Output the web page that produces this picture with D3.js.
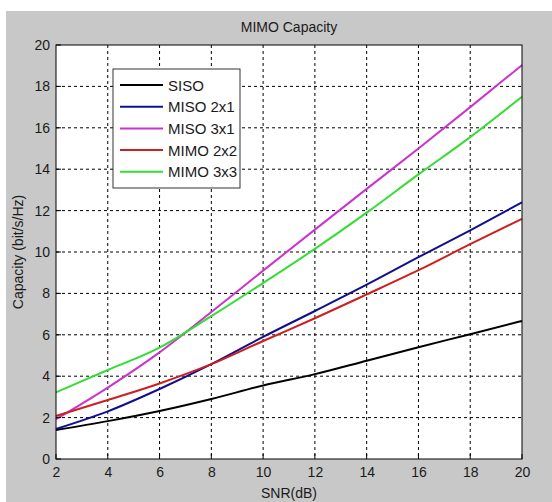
<!DOCTYPE html>
<html>
<head>
<meta charset="utf-8">
<script src="https://cdn.jsdelivr.net/npm/d3@7"></script>
<style>
  body { margin: 0; background: #fff; }
  svg text { font-family: "Liberation Sans", Arial, sans-serif; fill: #1a1a1a; }
</style>
</head>
<body>
<div id="chart"></div>
<script>
// values, every 2 dB
var snr = [2, 4, 6, 8, 10, 12, 14, 16, 18, 20];
var siso   = [1.40, 1.83, 2.32, 2.90, 3.55, 4.10, 4.75, 5.40, 6.03, 6.67];
var miso21 = [1.45, 2.30, 3.38, 4.58, 5.90, 7.15, 8.42, 9.75, 11.05, 12.40];
var miso31 = [1.92, 3.45, 5.15, 7.10, 9.10, 11.08, 13.05, 15.00, 17.00, 19.03];
var mimo22 = [2.08, 2.85, 3.65, 4.58, 5.70, 6.80, 7.95, 9.12, 10.38, 11.60];
var mimo33 = [3.22, 4.30, 5.38, 6.90, 8.50, 10.15, 11.90, 13.75, 15.55, 17.50];
var names  = ["SISO", "MISO 2x1", "MISO 3x1", "MIMO 2x2", "MIMO 3x3"];
var xTicks = [2, 4, 6, 8, 10, 12, 14, 16, 18, 20];
var yTicks = [0, 2, 4, 6, 8, 10, 12, 14, 16, 18, 20];

var series = [siso, miso21, miso31, mimo22, mimo33];
var colors = ["#000000", "#10108e", "#cc33cc", "#cc2020", "#33dd33"];

var W = 552, H = 502;
var m = {left: 56, top: 45, right: 522, bottom: 459};

var svg = d3.select("#chart").append("svg")
    .attr("width", W).attr("height", H);

// grey figure background
svg.append("rect").attr("x", 6).attr("y", 11)
    .attr("width", W - 6).attr("height", H - 11).attr("fill", "#c8c8c8");

var x = d3.scaleLinear().domain([2, 20]).range([m.left, m.right]);
var y = d3.scaleLinear().domain([0, 20]).range([m.bottom, m.top]);

svg.append("rect").attr("x", m.left).attr("y", m.top)
    .attr("width", m.right - m.left).attr("height", m.bottom - m.top)
    .attr("fill", "#fff");

// dashed grid
svg.append("g").selectAll("line").data(xTicks.slice(1, -1)).enter().append("line")
    .attr("x1", function (d) { return x(d); }).attr("x2", function (d) { return x(d); })
    .attr("y1", m.top).attr("y2", m.bottom)
    .attr("stroke", "#000").attr("stroke-width", 1).attr("stroke-dasharray", "3,3");
svg.append("g").selectAll("line").data(yTicks.slice(1, -1)).enter().append("line")
    .attr("y1", function (d) { return y(d); }).attr("y2", function (d) { return y(d); })
    .attr("x1", m.left).attr("x2", m.right)
    .attr("stroke", "#000").attr("stroke-width", 1).attr("stroke-dasharray", "3,3");

// curves
var line = d3.line()
    .x(function (d, i) { return x(snr[i]); })
    .y(function (d) { return y(d); })
    .curve(d3.curveMonotoneX);

svg.append("g").selectAll("path").data(series).enter().append("path")
    .attr("d", line)
    .attr("fill", "none")
    .attr("stroke", function (d, i) { return colors[i]; })
    .attr("stroke-width", 2);

// axes
var xAxis = d3.axisBottom(x).tickValues(xTicks).tickSize(0).tickPadding(8);
var yAxis = d3.axisLeft(y).tickValues(yTicks).tickSize(0).tickPadding(6);

var gx = svg.append("g").attr("transform", "translate(0," + m.bottom + ")").call(xAxis);
var gy = svg.append("g").attr("transform", "translate(" + m.left + ",0)").call(yAxis);
[gx, gy].forEach(function (g) {
    g.select(".domain").remove();
    g.selectAll("text").attr("font-size", 14).attr("font-family", "Liberation Sans, Arial, sans-serif");
});

// inner ticks like matlab
svg.append("g").selectAll("line").data(xTicks).enter().append("line")
    .attr("x1", function (d) { return x(d); }).attr("x2", function (d) { return x(d); })
    .attr("y1", m.bottom).attr("y2", m.bottom - 5).attr("stroke", "#000");
svg.append("g").selectAll("line").data(yTicks).enter().append("line")
    .attr("y1", function (d) { return y(d); }).attr("y2", function (d) { return y(d); })
    .attr("x1", m.left).attr("x2", m.left + 5).attr("stroke", "#000");

svg.append("rect").attr("x", m.left).attr("y", m.top)
    .attr("width", m.right - m.left).attr("height", m.bottom - m.top)
    .attr("fill", "none").attr("stroke", "#000").attr("stroke-width", 1);

// labels
svg.append("text").attr("x", (m.left + m.right) / 2).attr("y", 32)
    .attr("text-anchor", "middle").attr("font-size", 14).text("MIMO Capacity");
svg.append("text").attr("x", (m.left + m.right) / 2).attr("y", 498)
    .attr("text-anchor", "middle").attr("font-size", 14).text("SNR(dB)");
svg.append("text")
    .attr("transform", "translate(23," + ((m.top + m.bottom) / 2) + ") rotate(-90)")
    .attr("text-anchor", "middle").attr("font-size", 14).text("Capacity (bit/s/Hz)");

// legend
var lg = svg.append("g").attr("transform", "translate(113,69)");
lg.append("rect").attr("width", 127).attr("height", 119)
    .attr("fill", "#fff").attr("stroke", "#333").attr("stroke-width", 1);
var rows = lg.selectAll("g.row").data(names).enter().append("g")
    .attr("transform", function (d, i) { return "translate(0," + (16 + i * 21.7) + ")"; });
rows.append("line").attr("x1", 7).attr("x2", 50).attr("y1", 0).attr("y2", 0)
    .attr("stroke", function (d, i) { return colors[i]; }).attr("stroke-width", 2);
rows.append("text").attr("x", 55).attr("y", 5.5).attr("font-size", 15).text(function (d) { return d; });
</script>
</body>
</html>
